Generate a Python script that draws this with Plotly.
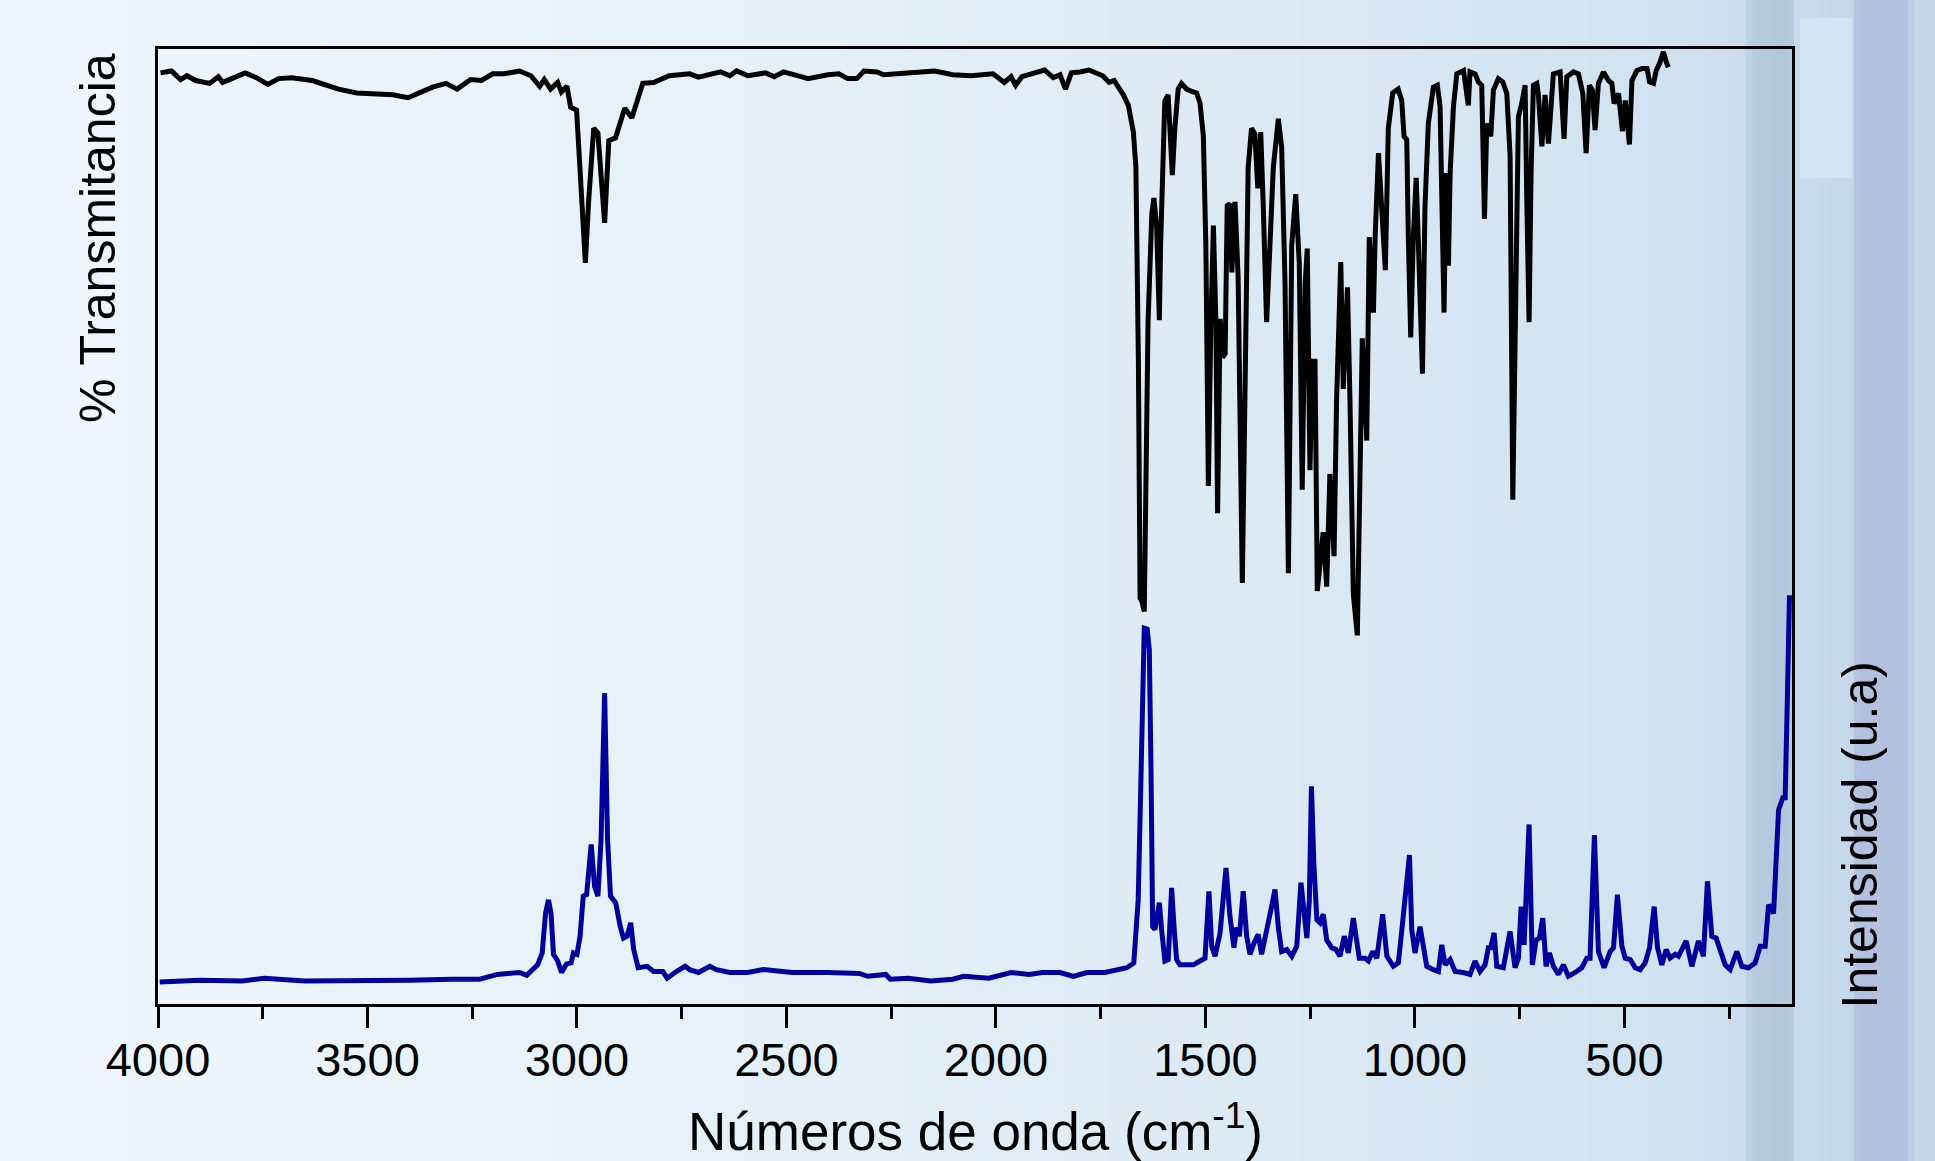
import plotly.graph_objects as go

# ---------------- data ----------------
ftir_wn = [3994, 3968, 3946, 3931, 3910, 3877, 3856, 3846, 3824, 3792, 3765, 3738, 3712, 3681, 3632, 3600,
           3569, 3526, 3472, 3440, 3403, 3377, 3345, 3313, 3286, 3254, 3228, 3201, 3174, 3137, 3110, 3089,
           3078, 3063, 3046, 3037, 3024, 3015, 3001, 2993, 2980, 2972, 2960, 2950, 2934, 2924, 2908, 2886,
           2869, 2843, 2817, 2780, 2731,
           2710, 2657, 2635, 2619, 2592, 2550, 2529, 2507, 2465, 2449, 2401, 2375, 2354, 2332, 2315, 2284,
           2268, 2209, 2146, 2103, 2060, 2007, 1980, 1964, 1953, 1938, 1900, 1884, 1863, 1847, 1834, 1820,
           1800, 1778, 1745, 1730, 1718,
           1696, 1684, 1672, 1666, 1660, 1656, 1652, 1646, 1642, 1637, 1628, 1623, 1616.5, 1610, 1607, 1602,
           1597, 1589, 1585, 1579, 1573, 1565, 1557, 1545, 1533, 1521, 1513, 1505, 1499, 1493, 1487, 1481,
           1475, 1471, 1465, 1459, 1453, 1448, 1441.5, 1437, 1429.5, 1422, 1412, 1406, 1398, 1390, 1382, 1375,
           1368, 1362, 1354, 1346, 1338, 1326, 1318, 1310, 1302, 1294, 1284.5, 1276, 1269, 1262, 1257, 1250.5,
           1245, 1238.5, 1233, 1219, 1210.6, 1203, 1193, 1187, 1177, 1171, 1161, 1155, 1147, 1137.5, 1131,
           1125.6, 1115, 1109, 1099, 1095, 1087, 1079, 1070.6, 1063.5, 1053, 1040,
           1031.5, 1026, 1019.5, 1015.7, 1010, 1004, 997, 992, 982, 976, 968, 956, 946.5, 940, 936, 930.5,
           926, 920, 916, 908, 900, 884, 872.5, 868.5, 856.5, 848.6, 840.5, 834, 828.5, 819, 812.7, 800.8,
           790.3, 780.7, 772.8, 766.4, 758.5, 753, 745, 737, 733, 727.5, 722.8, 717.2, 709, 705.3, 697,
           689.3, 681.4, 669.5, 653.5, 644, 637.5, 621.7, 609.8, 599.3, 591.4, 583.5, 576.4, 570, 562, 550,
           538, 530, 524.5, 514, 504.7, 498, 488, 482, 470, 458, 446, 440, 430.6, 424, 415, 407, 399, 395]
ftir_t = [97.5, 97.7, 96.8, 97.2, 96.7, 96.4, 97.1, 96.5, 96.9, 97.5, 97.0, 96.3, 96.9, 97.0, 96.7, 96.3,
          95.8, 95.4, 95.3, 95.2, 94.9, 95.4, 96.0, 96.4, 95.8, 96.8, 96.7, 97.4, 97.4, 97.7, 97.2, 96.1,
          96.8, 95.8, 96.5, 95.5, 96.1, 93.9, 93.6, 87.6, 77.6, 84.2, 91.7, 91.2, 81.8, 90.4, 90.7, 93.8,
          92.8, 96.4, 96.5, 97.2, 97.4,
          97.05, 97.6, 97.2, 97.7, 97.2, 97.5, 97.1, 97.6, 97.1, 96.9, 97.3, 97.4, 96.9, 96.9, 97.7, 97.6,
          97.3, 97.5, 97.7, 97.3, 97.2, 97.4, 96.5, 97.1, 96.2, 97.1, 97.5, 97.8, 97.0, 97.3, 95.8, 97.5,
          97.6, 97.8, 97.2, 96.5, 96.7,
          95.2, 94.1, 91.3, 87.6, 67.3, 42.5, 42.2, 41.1, 55.1, 71.4, 82.75, 84.4, 81.5, 71.6, 79.5, 89.7,
          94.55, 95.2, 91.7, 86.8, 91.7, 95.8, 96.4, 95.8, 95.55, 95.4, 94.35, 90.9, 79.5, 54.25, 71.4, 81.5,
          71.4, 51.4, 71.75, 67.7, 68.1, 83.6, 83.8, 76.6, 84.0, 76.2, 44.1, 67.3, 87.6, 91.7, 91.1, 85.4,
          91.3, 83.6, 71.4, 79.5, 87.6, 92.7, 89.7, 75.4, 45.1, 79.5, 84.8, 77.5, 53.85, 75.4, 79.1, 55.9,
          67.3, 67.3, 43.25, 49.4, 43.7, 55.5, 46.9, 63.2, 77.7, 64.4, 75.05, 63.2, 42.9, 38.6, 59.2,
          69.7, 59.0, 80.3, 72.4, 80.3, 89.1, 83.6, 76.85, 91.7, 95.4, 95.8,
          94.6, 90.85, 90.5, 80.1, 69.8, 80.1, 86.5, 80.1, 66.0, 83.5, 92.2, 96.0, 96.2, 94.0, 87.0, 72.4,
          87.0, 77.3, 87.0, 94.0, 97.4, 97.75, 94.1, 97.6, 97.4, 96.55, 96.2, 82.2, 92.2, 90.85, 95.7, 96.9,
          96.55, 95.35, 88.75, 52.8, 76.6, 92.9, 94.3, 96.2, 84.25, 71.4, 87.0, 96.2, 96.4, 95.2, 89.8,
          95.2, 90.1, 97.4, 97.6, 90.6, 97.1, 97.6, 97.4, 95.35, 89.1, 96.2, 95.7, 91.5, 96.4, 97.6,
          96.7, 96.4, 94.3, 95.35, 91.4, 94.6, 90.0, 96.7, 97.75, 97.95, 97.95, 96.55, 96.4, 97.75, 98.6,
          99.7, 98.5, 98.1]

raman_wn = [3996, 3900, 3800, 3746, 3650, 3495, 3400, 3300, 3232, 3190, 3137, 3120, 3094, 3083, 3075, 3068,
            3062, 3056, 3046, 3037, 3025, 3014, 3008.5, 3000, 2992.6, 2985, 2977, 2966, 2958, 2950, 2942.5,
            2934, 2927, 2920, 2907.6, 2896.6, 2889, 2880.6, 2871.8, 2864.6, 2854, 2832.6, 2817, 2795,
            2784.6, 2763, 2742, 2731, 2710, 2683, 2667, 2635, 2593, 2555, 2486, 2401, 2326, 2306, 2263,
            2252, 2209, 2155.5, 2103, 2077, 2017, 1964, 1921, 1889, 1847, 1815, 1783, 1740, 1714, 1687.5,
            1671, 1660.5, 1655, 1650, 1646, 1639, 1634, 1630, 1626, 1620.6, 1610, 1604.6, 1596.7, 1588.8,
            1580.7, 1574.5, 1568.8, 1561, 1529, 1513, 1501, 1491.7, 1485, 1477, 1465, 1451, 1441.5, 1432,
            1425.5, 1419, 1409.7, 1401.6, 1393.7, 1384, 1374, 1366, 1354, 1342, 1334, 1326, 1318, 1306,
            1294, 1282, 1272, 1266.5, 1258, 1252, 1247, 1241, 1234, 1226.6, 1218.7, 1210.6, 1198.7, 1188.4,
            1179, 1168.6, 1159, 1147, 1139, 1132.8, 1119, 1111, 1100.7, 1091, 1077, 1067, 1051.5, 1039.6,
            1029, 1013, 1007.6, 999.8, 987.8, 980, 971.8, 956, 944, 936, 928, 916, 904, 884.4, 868.5,
            856.5, 844.6, 832.6, 824.7, 819, 811, 804.7, 789, 773, 761, 753, 746.6, 739.5, 727.6, 719.7,
            710.8, 703, 694.8, 687, 679, 669.5, 657.6, 645.6, 633.7, 617.7, 601.7, 589.8, 582, 571.6, 562,
            548.5, 534, 526, 516.7, 506, 498, 486, 474.4, 462.5, 450.6, 440, 429, 421, 410.7, 400.4, 391,
            379, 371, 352.7, 339, 323.3, 311.4, 301.8, 291.3, 281, 271.5, 259.5, 247.6, 231.6, 219.7, 204,
            188, 176, 164, 156, 144, 132, 121.8, 116.3, 110.8, 106]
raman_i = [2.3, 2.5, 2.4, 2.7, 2.4, 2.4, 2.5, 2.6, 2.6, 3.1, 3.3, 3.0, 4.1, 5.35, 9.5, 10.9,
           9.5, 5.2, 4.5, 3.3, 4.2, 4.3, 5.35, 5.2, 7.1, 11.3, 11.45, 16.7, 12.3, 11.3, 17.2,
           32.55, 17.2, 11.3, 10.6, 8.1, 6.9, 7.1, 8.5, 5.7, 3.8, 3.95, 3.4, 3.4,
           2.7, 3.4, 3.95, 3.6, 3.3, 3.95, 3.6, 3.3, 3.3, 3.6, 3.3, 3.3, 3.2, 2.9, 3.1,
           2.6, 2.7, 2.4, 2.6, 2.9, 2.7, 3.3, 3.1, 3.3, 3.3, 2.9, 3.3, 3.3, 3.6, 3.8,
           4.3, 10.9, 21.4, 35.3, 39.35, 39.25, 37.1, 24.9, 8.1, 7.8, 10.6, 7.8, 4.5, 4.65,
           12.15, 7.8, 4.65, 4.1, 4.1, 4.5, 4.8, 11.8, 6.05, 5.0, 7.45, 14.25, 9.2, 5.9,
           8.0, 7.1, 11.8, 7.1, 5.2, 6.4, 7.3, 5.2, 7.45, 10.2, 12.0, 8.0, 5.5, 5.7,
           5.0, 6.05, 12.7, 9.9, 6.9, 10.9, 22.8, 14.4, 8.8, 8.5, 9.4, 6.7, 5.9, 5.7,
           5.0, 7.1, 5.35, 9.0, 6.7, 4.8, 4.8, 4.5, 5.5, 4.8, 9.4, 5.0, 3.95, 4.3,
           8.7, 15.6, 7.8, 5.35, 8.1, 5.7, 3.95, 3.6, 3.4, 6.2, 4.1, 4.65, 3.4, 3.3, 3.1,
           4.5, 3.4, 4.1, 5.9, 5.9, 7.45, 3.95, 3.8, 7.6, 3.8, 4.8, 10.2, 6.2, 18.8, 4.1,
           6.7, 6.9, 9.0, 3.95, 5.35, 3.95, 3.1, 4.1, 2.9, 3.3, 3.8, 4.8, 4.8, 17.7, 5.5,
           3.8, 5.5, 5.9, 11.45, 6.05, 4.8, 4.65, 3.8, 3.6, 4.3, 5.9, 10.2, 5.9, 4.1, 5.7, 4.8,
           5.2, 5.0, 6.6, 3.95, 6.6, 5.0, 12.85, 7.1, 6.9, 5.7, 4.1, 3.6, 5.5, 3.95, 3.8,
           4.3, 6.05, 6.05, 10.4, 9.5, 20.35, 21.6, 21.6, 32.55, 42.8]

x_range = [4000, 100]
y_range = [0, 100]

x_title = "Números de onda (cm<sup>-1</sup>)"
left_title = "% Transmitancia"
right_title = "Intensidad (u.a)"

# ---------------- figure ----------------
W, H = 1935, 1161
ML, MR, MT, MB = 158, 143, 49, 157
PW, PH = W - ML - MR, H - MT - MB

def px_to_paper_x(px):
    return (px - ML) / PW

def px_to_paper_y(py):
    return (H - MB - py) / PH

FONT = "Liberation Sans, Arial, Helvetica, sans-serif"

fig = go.Figure()
fig.add_trace(go.Scatter(x=ftir_wn, y=ftir_t, mode="lines",
                         line=dict(color="#000000", width=5), showlegend=False))
fig.add_trace(go.Scatter(x=raman_wn, y=raman_i, mode="lines",
                         line=dict(color="#00009c", width=5), showlegend=False))

# --- slide-like background (vertical strips) ---
stops = [(0, (240, 246, 251)), (500, (233, 242, 249)), (1000, (225, 237, 246)),
         (1400, (216, 231, 243)), (1700, (207, 225, 239)), (1744, (203, 221, 237)),
         (1752, (184, 203, 224)), (1790, (178, 198, 221)), (1798, (202, 221, 237)),
         (1850, (198, 217, 235)), (1858, (178, 193, 221)), (1908, (177, 193, 222)),
         (1914, (197, 214, 234)), (1935, (197, 214, 234))]

def bg_color(px):
    for (a, ca), (b, cb) in zip(stops[:-1], stops[1:]):
        if a <= px <= b:
            t = (px - a) / (b - a) if b > a else 0
            c = [round(ca[i] + (cb[i] - ca[i]) * t) for i in range(3)]
            return "rgb(%d,%d,%d)" % tuple(c)
    return "rgb(197,214,234)"

shapes = []
step = 6
for px in range(0, W, step):
    shapes.append(dict(type="rect", xref="paper", yref="paper",
                       x0=px_to_paper_x(px), x1=px_to_paper_x(min(px + step + 1, W)),
                       y0=px_to_paper_y(H), y1=px_to_paper_y(0),
                       fillcolor=bg_color(px + step / 2), line=dict(width=0), layer="below"))
# soft light patch top right
shapes.append(dict(type="rect", xref="paper", yref="paper",
                   x0=px_to_paper_x(1800), x1=px_to_paper_x(1852),
                   y0=px_to_paper_y(178), y1=px_to_paper_y(18),
                   fillcolor="rgb(212,227,242)", line=dict(width=0), layer="below"))

fig.update_layout(
    width=W, height=H,
    margin=dict(l=ML, r=MR, t=MT, b=MB, pad=0),
    paper_bgcolor="rgb(228,238,247)",
    plot_bgcolor="rgba(0,0,0,0)",
    font=dict(family=FONT, color="#000000"),
    shapes=shapes,
    showlegend=False,
)

fig.update_xaxes(
    range=x_range, showgrid=False, zeroline=False,
    showline=True, linecolor="#000000", linewidth=3, mirror=True,
    ticks="outside", ticklen=21, tickwidth=3, tickcolor="#000000",
    tick0=0, dtick=500, ticklabelstandoff=-8,
    tickfont=dict(family=FONT, size=47, color="#000000"),
    minor=dict(ticks="outside", ticklen=12, tickwidth=3, tickcolor="#000000",
               tick0=0, dtick=250, showgrid=False),
)
fig.update_yaxes(
    range=y_range, showgrid=False, zeroline=False,
    showline=True, linecolor="#000000", linewidth=3, mirror=True,
    ticks="", showticklabels=False,
)

fig.add_annotation(text=x_title, xref="paper", yref="paper",
                   x=0.5, y=px_to_paper_y(1127), xanchor="center", yanchor="middle",
                   showarrow=False, font=dict(family=FONT, size=53, color="#000000"))
fig.add_annotation(text=left_title, xref="paper", yref="paper", textangle=-90,
                   x=px_to_paper_x(98), y=px_to_paper_y(51), xanchor="center", yanchor="top",
                   showarrow=False, font=dict(family=FONT, size=50, color="#000000"))
fig.add_annotation(text=right_title, xref="paper", yref="paper", textangle=-90,
                   x=px_to_paper_x(1859), y=px_to_paper_y(1010), xanchor="center", yanchor="bottom",
                   showarrow=False, font=dict(family=FONT, size=50, color="#000000"))

fig.write_html("out.html", config={"displayModeBar": False},
               post_script="document.body.style.margin='0px';document.body.style.padding='0px';"
                           "document.body.style.overflow='hidden';")
